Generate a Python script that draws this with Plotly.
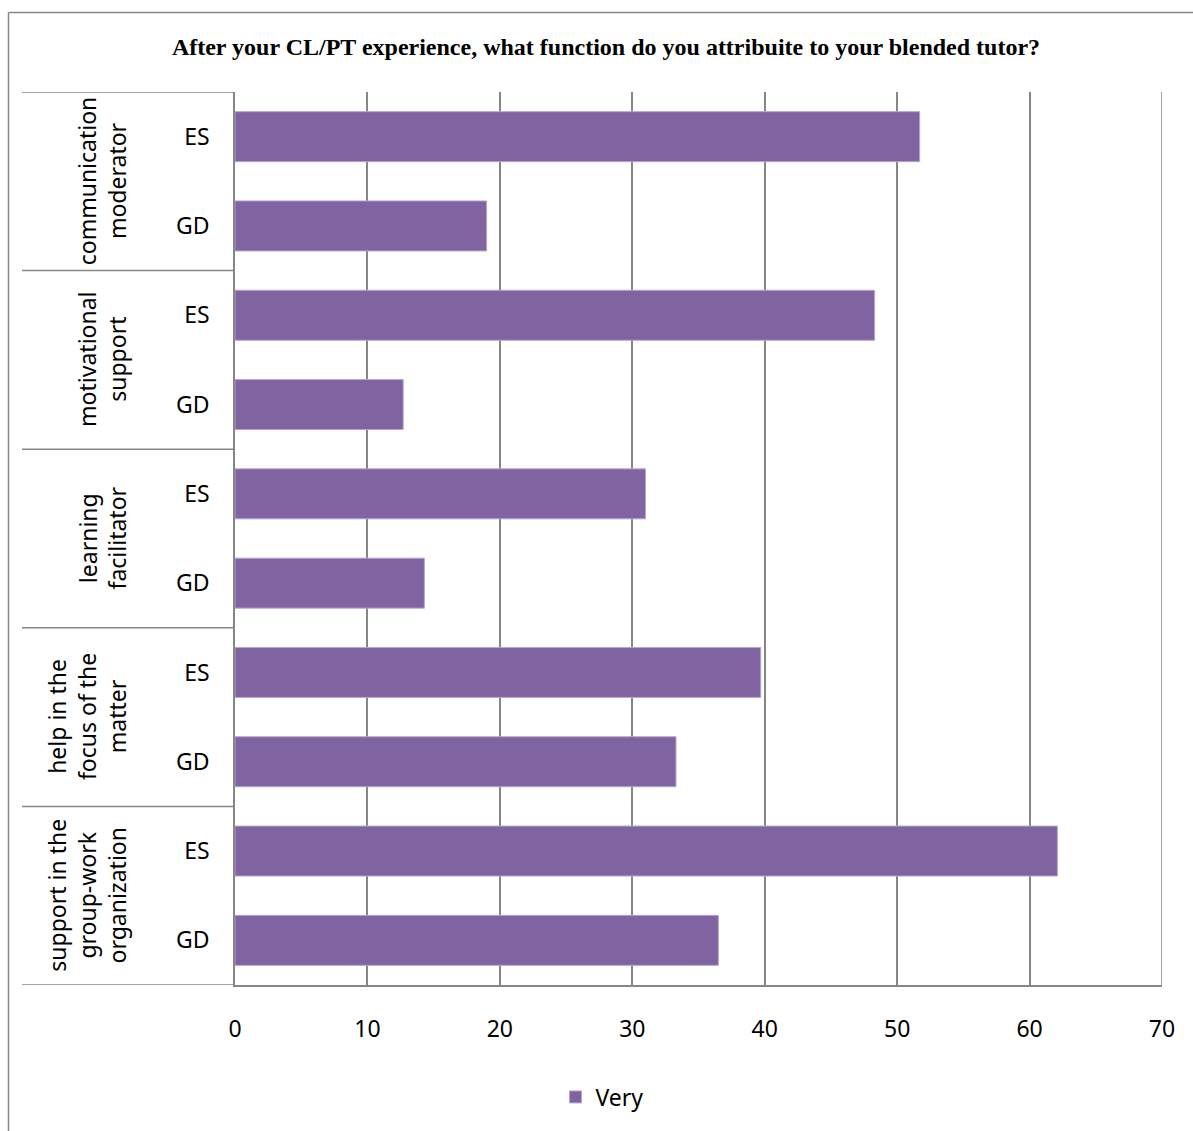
import plotly.graph_objects as go

# ---- data ----
groups = ["communication<br>moderator", "motivational<br>support", "learning<br>facilitator",
          "help in the<br>focus of the<br>matter", "support in the<br>group-work<br>organization"]
subgroups = ["ES", "GD"]
very_values = [51.7, 19.0, 48.3, 12.7, 31.0, 14.3, 39.7, 33.3, 62.1, 36.5]
series_name = "Very"
x_ticks = [0, 10, 20, 30, 40, 50, 60, 70]
title_text = "After your CL/PT experience, what function do you attribuite to your blended tutor?"

# ---- layout constants ----
W, H = 1193, 1131
L, R, T, B = 235, 1162, 92, 985
GRID = "#868686"
BAR = "#8064A2"
FONT = "Noto Sans"

n = len(groups) * len(subgroups)
positions = list(range(n))
labels = [s for g in groups for s in subgroups]

def px_x(p):
    return (p - L) / (R - L)

def px_y(p):
    return (B - p) / (B - T)

fig = go.Figure()
fig.add_trace(go.Bar(
    x=very_values, y=positions, orientation="h", name=series_name,
    marker=dict(color=BAR, line=dict(color="#b5a6cc", width=1)),
    width=0.56, showlegend=True,
))

shapes = []
# gridline at the axis maximum
shapes.append(dict(type="line", xref="x", yref="paper", x0=x_ticks[-1], x1=x_ticks[-1], y0=0, y1=1,
                   line=dict(color=GRID, width=1.5)))
# group separators in the category label area
for k in range(len(groups) + 1):
    yv = k * len(subgroups) - 0.5
    shapes.append(dict(type="line", xref="paper", yref="y", x0=px_x(22), x1=0, y0=yv, y1=yv,
                       line=dict(color=GRID, width=1.5)))
# outer chart border (left and top)
shapes.append(dict(type="line", xref="paper", yref="paper", x0=px_x(8.5), x1=px_x(8.5),
                   y0=px_y(12.5), y1=px_y(W + 50), line=dict(color=GRID, width=1.5)))
shapes.append(dict(type="line", xref="paper", yref="paper", x0=px_x(8.5), x1=px_x(W + 50),
                   y0=px_y(12.5), y1=px_y(12.5), line=dict(color=GRID, width=1.5)))

annotations = []
for gi, g in enumerate(groups):
    yc = gi * len(subgroups) + (len(subgroups) - 1) / 2
    annotations.append(dict(text=g, xref="paper", yref="y", x=px_x(135), y=yc,
                            xanchor="right", yanchor="middle", textangle=-90, showarrow=False,
                            align="center", font=dict(family=FONT, size=23, color="#000")))

fig.update_layout(
    width=W, height=H,
    margin=dict(l=L, r=W - R, t=T, b=H - B),
    paper_bgcolor="white", plot_bgcolor="white",
    title=dict(text="<b>" + title_text + "</b>", xref="container", yref="container",
               x=606 / W, y=1 - 47 / H, xanchor="center", yanchor="middle",
               font=dict(family="Liberation Serif", size=24, color="#000")),
    xaxis=dict(range=[0, 70], tickvals=x_ticks, showgrid=True, gridcolor=GRID, gridwidth=1.5,
               zeroline=False, showline=True, linecolor=GRID, linewidth=1.5,
               ticks="", ticklabelstandoff=23,
               tickfont=dict(family=FONT, size=23, color="#000")),
    yaxis=dict(range=[n - 0.5, -0.5], tickvals=positions, ticktext=labels, showgrid=False,
               zeroline=False, showline=True, linecolor=GRID, linewidth=1.5,
               ticks="", ticklabelstandoff=19,
               tickfont=dict(family=FONT, size=23, color="#000")),
    legend=dict(orientation="h", xref="container", yref="container", x=602 / W, y=1 - 1097 / H,
                xanchor="center", yanchor="middle", font=dict(family=FONT, size=23, color="#000"),
                itemwidth=30),
    shapes=shapes, annotations=annotations,
    bargap=0.44,
)

fig.write_html("out.html")
